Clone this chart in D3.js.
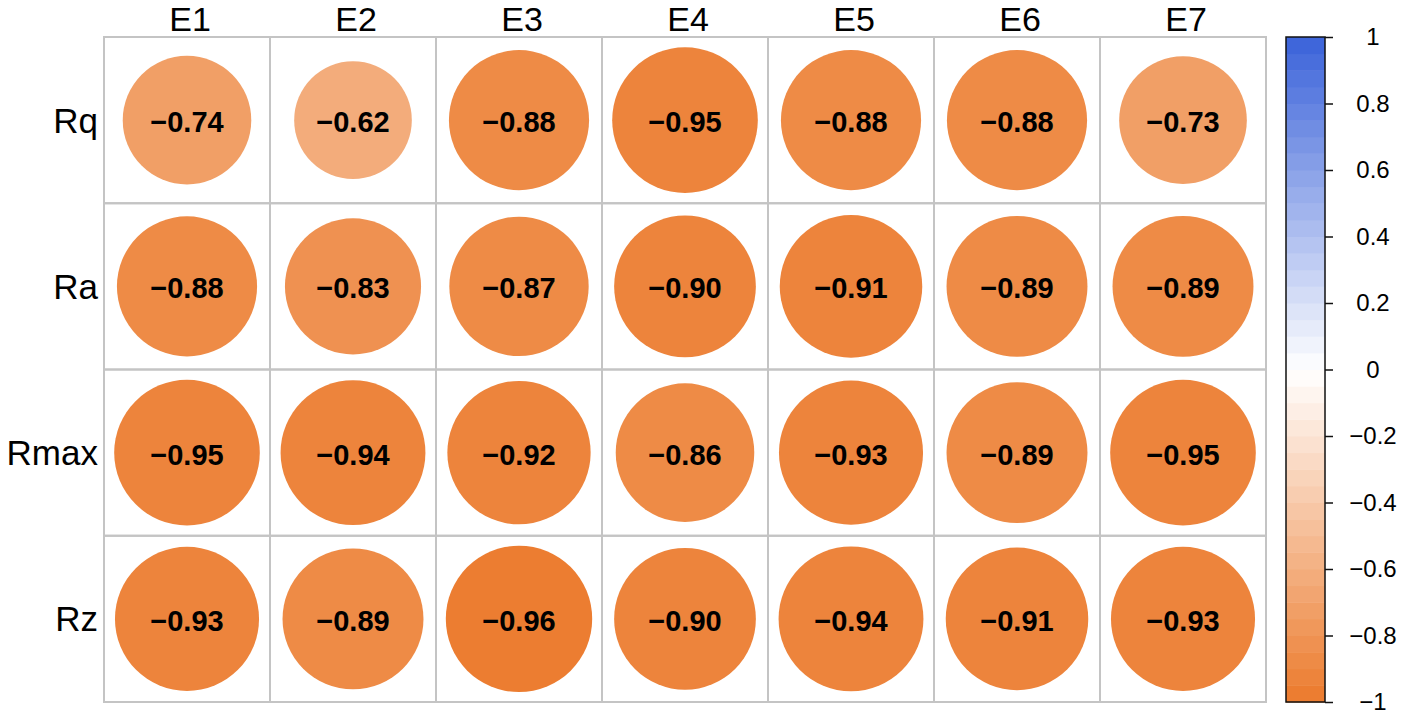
<!DOCTYPE html>
<html>
<head>
<meta charset="utf-8">
<script src="https://cdn.jsdelivr.net/npm/d3@7"></script>
<style>
  body { margin: 0; background: #fff; }
  svg { display: block; font-family: "Liberation Sans", Arial, sans-serif; }
</style>
</head>
<body>
<div id="chart"></div>
<script>
// data
const cols = ['E1', 'E2', 'E3', 'E4', 'E5', 'E6', 'E7'];
const rows = ['Rq', 'Ra', 'Rmax', 'Rz'];
const rqVals   = [-0.74, -0.62, -0.88, -0.95, -0.88, -0.88, -0.73];
const raVals   = [-0.88, -0.83, -0.87, -0.90, -0.91, -0.89, -0.89];
const rmaxVals = [-0.95, -0.94, -0.92, -0.86, -0.93, -0.89, -0.95];
const rzVals   = [-0.93, -0.89, -0.96, -0.90, -0.94, -0.91, -0.93];
const legendTicks = [-1, -0.8, -0.6, -0.4, -0.2, 0, 0.2, 0.4, 0.6, 0.8, 1];

const allVals = [rqVals, raVals, rmaxVals, rzVals];

const width = 1413, height = 722;
const nBins = 40;

const svg = d3.select('#chart')
    .append('svg')
        .attr('width', width)
        .attr('height', height);

// grid scales
const x = d3.scaleBand().domain(cols).range([104, 1266]);
const y = d3.scaleBand().domain(rows).range([37, 702]);
const r = d3.scaleSqrt().domain([0, 1]).range([0, 0.45 * Math.min(x.bandwidth(), y.bandwidth())]);

const colorRamp = d3.scaleLinear()
    .domain([-1, 0, 1])
    .range(['#ec7a2c', '#ffffff', '#3a62d9'])
    .interpolate(d3.interpolateRgb);

// discrete colours like the legend bins
const step = 2 / nBins;
function binColor(v) {
    let i = Math.min(nBins - 1, Math.floor((v + 1) / step));
    return colorRamp(-1 + (i + 0.5) * step);
}

const cells = [];
rows.forEach((rn, i) => cols.forEach((cn, j) => cells.push({row: rn, col: cn, v: allVals[i][j]})));

//--- grid ---
const g = svg.append('g');

g.selectAll('rect.cell')
    .data(cells)
    .join('rect')
        .attr('class', 'cell')
        .attr('x', d => x(d.col))
        .attr('y', d => y(d.row))
        .attr('width', x.bandwidth())
        .attr('height', y.bandwidth())
        .style('fill', 'none')
        .style('stroke', '#c4c4c4')
        .style('stroke-width', 2);

g.selectAll('circle')
    .data(cells)
    .join('circle')
        .attr('cx', d => x(d.col) + x.bandwidth() / 2)
        .attr('cy', d => y(d.row) + y.bandwidth() / 2)
        .attr('r', d => r(Math.abs(d.v)))
        .style('fill', d => binColor(d.v));

const fmt = d3.format('.2f');
g.selectAll('text.val')
    .data(cells)
    .join('text')
        .attr('class', 'val')
        .attr('x', d => x(d.col) + x.bandwidth() / 2)
        .attr('y', d => y(d.row) + y.bandwidth() / 2 + 2)
        .attr('text-anchor', 'middle')
        .attr('dominant-baseline', 'central')
        .style('font-size', '29px')
        .style('font-weight', 'bold')
        .style('fill', '#000')
        .text(d => fmt(d.v));

// column labels
svg.selectAll('text.col')
    .data(cols)
    .join('text')
        .attr('class', 'col')
        .attr('x', d => x(d) + x.bandwidth() / 2 + 3)
        .attr('y', 31)
        .attr('text-anchor', 'middle')
        .style('font-size', '34px')
        .style('fill', '#000')
        .text(d => d);

// row labels
svg.selectAll('text.row')
    .data(rows)
    .join('text')
        .attr('class', 'row')
        .attr('x', 98)
        .attr('y', d => y(d) + y.bandwidth() / 2)
        .attr('dominant-baseline', 'central')
        .attr('text-anchor', 'end')
        .style('font-size', '35px')
        .style('fill', '#000')
        .text(d => d);

//--- colour legend ---
const legX0 = 1286, legX1 = 1325;
const ly = d3.scaleLinear().domain([-1, 1]).range([702, 37]);
const bins = d3.range(nBins).map(i => -1 + i * step);

const leg = svg.append('g');

leg.selectAll('rect.bin')
    .data(bins)
    .join('rect')
        .attr('class', 'bin')
        .attr('x', legX0)
        .attr('width', legX1 - legX0)
        .attr('y', d => ly(d + step))
        .attr('height', d => ly(d) - ly(d + step) + 0.5)
        .style('fill', d => colorRamp(d + step / 2));

leg.append('rect')
    .attr('x', legX0)
    .attr('y', ly(1))
    .attr('width', legX1 - legX0)
    .attr('height', ly(-1) - ly(1))
    .style('fill', 'none')
    .style('stroke', '#111')
    .style('stroke-width', 1.5);

const legAxis = d3.axisRight(ly)
    .tickValues(legendTicks)
    .tickSize(8)
    .tickPadding(0)
    .tickFormat(d3.format('~g'));

leg.append('g')
    .attr('transform', `translate(${legX1},0)`)
    .call(legAxis)
    .call(a => a.select('.domain').remove())
    .call(a => a.selectAll('line').attr('stroke', '#111').attr('stroke-width', 1.5))
    .call(a => a.selectAll('text')
        .attr('x', 48)
        .attr('text-anchor', 'middle')
        .style('font-size', '24px')
        .style('font-family', '"Liberation Sans", Arial, sans-serif')
        .style('fill', '#000'));
</script>
</body>
</html>
